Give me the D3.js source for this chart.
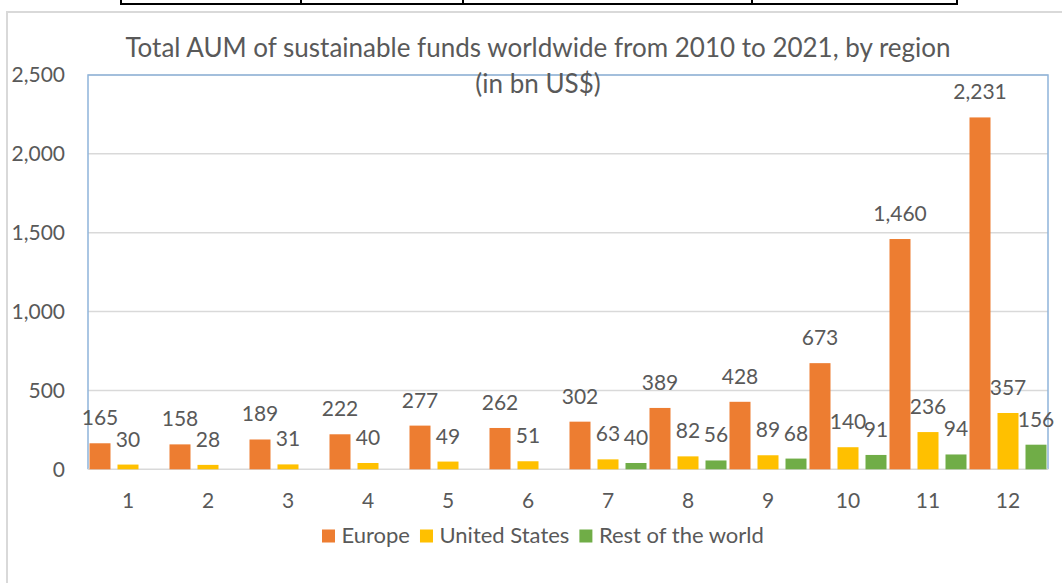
<!DOCTYPE html>
<html>
<head>
<meta charset="utf-8">
<script src="https://cdn.jsdelivr.net/npm/d3@7"></script>
<style>
  html, body { margin: 0; padding: 0; background: #fff; }
  svg { display: block; }
  text { font-family: Lato, "Noto Sans", sans-serif; fill: #595959; }
</style>
</head>
<body>
<svg id="chart" width="1062" height="583"></svg>
<script>
// Sustainable fund assets by region, bn US$
const categories = ["1", "2", "3", "4", "5", "6", "7", "8", "9", "10", "11", "12"];
const seriesNames = ["Europe", "United States", "Rest of the world"];
const europe = [165, 158, 189, 222, 277, 262, 302, 389, 428, 673, 1460, 2231];
const unitedStates = [30, 28, 31, 40, 49, 51, 63, 82, 89, 140, 236, 357];
const restOfWorld = [null, null, null, null, null, null, 40, 56, 68, 91, 94, 156];
const yTicks = [0, 500, 1000, 1500, 2000, 2500];
const seriesColors = ["#ED7D31", "#FFC000", "#70AD47"];

const titleLines = ["Total AUM of sustainable funds worldwide from 2010 to 2021, by region", "(in bn US$)"];

const svg = d3.select("#chart");
const W = 1062, H = 583;
const plot = { left: 88, right: 1048, top: 75, bottom: 469.3 };

// Fragment of the table sitting above the chart
const tableCols = [121, 301, 463, 752, 957];
const tbl = svg.append("g");
tbl.append("line").attr("x1", tableCols[0]).attr("x2", tableCols[tableCols.length - 1])
  .attr("y1", 4).attr("y2", 4).attr("stroke", "#000").attr("stroke-width", 2);
tbl.selectAll("line.col").data(tableCols).join("line").attr("class", "col")
  .attr("x1", d => d).attr("x2", d => d).attr("y1", 0).attr("y2", 5)
  .attr("stroke", "#000").attr("stroke-width", 2);

// Chart area frame
svg.append("rect").attr("x", 7).attr("y", 12).attr("width", W + 20).attr("height", H + 20)
  .attr("fill", "#fff").attr("stroke", "#D9D9D9").attr("stroke-width", 2);

// Scales
const x0 = d3.scaleBand().domain(categories).range([plot.left, plot.right]).paddingInner(0).paddingOuter(0);
const x1 = d3.scaleBand().domain(seriesNames).range([1.5, x0.bandwidth() - 1.5]).paddingInner(0.25).paddingOuter(0);
const y = d3.scaleLinear().domain([0, 2500]).range([plot.bottom, plot.top]);

// Gridlines
svg.append("g").selectAll("line").data(yTicks.filter(t => t > 0)).join("line")
  .attr("x1", plot.left).attr("x2", plot.right)
  .attr("y1", d => y(d)).attr("y2", d => y(d))
  .attr("stroke", "#D9D9D9").attr("stroke-width", 1.5);

// Plot area border (top, left, right)
svg.append("path")
  .attr("d", `M${plot.left},${plot.bottom}V${plot.top}H${plot.right}V${plot.bottom}`)
  .attr("fill", "none").attr("stroke", "#8FB4DA").attr("stroke-width", 1.5);

// Category axis line
svg.append("line").attr("x1", plot.left).attr("x2", plot.right)
  .attr("y1", y(0)).attr("y2", y(0)).attr("stroke", "#D9D9D9").attr("stroke-width", 1.5);

// Y axis labels
const yAxis = d3.axisLeft(y).tickValues(yTicks).tickSize(0).tickPadding(23).tickFormat(d3.format(","));
const gy = svg.append("g").attr("transform", `translate(${plot.left},0)`).call(yAxis);
gy.select(".domain").remove();
gy.selectAll("text").attr("font-size", 21).style("font-family", "Lato").attr("fill", "#595959");

// X axis labels
const xAxis = d3.axisBottom(x0).tickSize(0).tickPadding(0);
const gx = svg.append("g").attr("transform", `translate(0,${plot.bottom})`).call(xAxis);
gx.select(".domain").remove();
gx.selectAll("text").attr("font-size", 21).attr("dy", null).attr("y", 38.5)
  .style("font-family", "Lato").attr("fill", "#595959");

// Bars and value labels
const seriesData = [europe, unitedStates, restOfWorld];
const rows = [];
seriesData.forEach((vals, si) => {
  vals.forEach((v, ci) => {
    if (v != null) rows.push({ series: seriesNames[si], color: seriesColors[si], cat: categories[ci], value: v });
  });
});

svg.append("g").selectAll("rect").data(rows).join("rect")
  .attr("x", d => x0(d.cat) + x1(d.series))
  .attr("width", x1.bandwidth())
  .attr("y", d => y(d.value))
  .attr("height", d => y(0) - y(d.value))
  .attr("fill", d => d.color);

svg.append("g").selectAll("text").data(rows).join("text")
  .attr("x", d => x0(d.cat) + x1(d.series) + x1.bandwidth() / 2)
  .attr("y", d => y(d.value) - 18)
  .attr("text-anchor", "middle")
  .attr("font-size", 21)
  .text(d => d3.format(",")(d.value));

// Title
svg.append("g").selectAll("text").data(titleLines).join("text")
  .attr("x", 538).attr("y", (d, i) => 57.3 + i * 36)
  .attr("text-anchor", "middle")
  .attr("font-size", 26)
  .text(d => d);

// Legend
const legend = svg.append("g");
let lx = 322;
seriesNames.forEach((name, i) => {
  legend.append("rect").attr("x", lx).attr("y", 529.5).attr("width", 13).attr("height", 13)
    .attr("fill", seriesColors[i]);
  const t = legend.append("text").attr("x", lx + 19.5).attr("y", 543.3)
    .attr("font-size", 22).text(name);
  lx += 19.5 + t.node().getComputedTextLength() + 10;
});
</script>
</body>
</html>
